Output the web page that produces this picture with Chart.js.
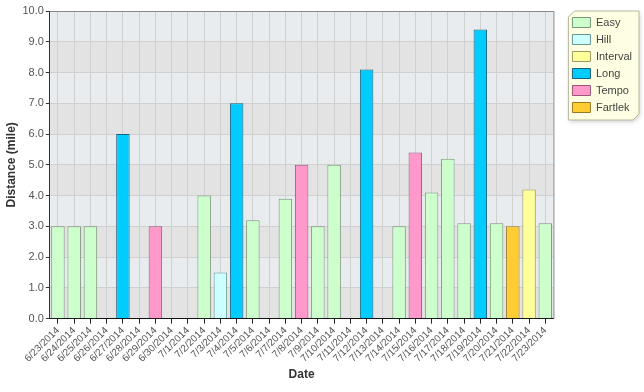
<!DOCTYPE html>
<html>
<head>
<meta charset="utf-8">
<script src="https://cdn.jsdelivr.net/npm/chart.js@4.4.1/dist/chart.umd.min.js"></script>
<style>
  html, body { margin: 0; padding: 0; background: #fff; }
  #wrap { width: 644px; height: 392px; }
</style>
</head>
<body>
<div id="wrap"><canvas id="runs"></canvas></div>
<script>
// Run log data
// -----------------------------------
var dates = ['6/23/2014', '6/24/2014', '6/25/2014', '6/26/2014', '6/27/2014', '6/28/2014', '6/29/2014',
    '6/30/2014', '7/1/2014', '7/2/2014', '7/3/2014', '7/4/2014', '7/5/2014', '7/6/2014', '7/7/2014',
    '7/8/2014', '7/9/2014', '7/10/2014', '7/11/2014', '7/12/2014', '7/13/2014', '7/14/2014', '7/15/2014',
    '7/16/2014', '7/17/2014', '7/18/2014', '7/19/2014', '7/20/2014', '7/21/2014', '7/22/2014', '7/23/2014'];

var easy     = [3.0, 3.0, 3.0, null, null, null, null, null, null, 4.0, null, null, 3.2, null, 3.9, null, 3.0, 5.0, null, null, null, 3.0, null, 4.1, 5.2, 3.1, null, 3.1, null, null, 3.1];
var hill     = [null, null, null, null, null, null, null, null, null, null, 1.5, null, null, null, null, null, null, null, null, null, null, null, null, null, null, null, null, null, null, null, null];
var interval = [null, null, null, null, null, null, null, null, null, null, null, null, null, null, null, null, null, null, null, null, null, null, null, null, null, null, null, null, null, 4.2, null];
var long     = [null, null, null, null, 6.0, null, null, null, null, null, null, 7.0, null, null, null, null, null, null, null, 8.1, null, null, null, null, null, null, 9.4, null, null, null, null];
var tempo    = [null, null, null, null, null, null, 3.0, null, null, null, null, null, null, null, null, 5.0, null, null, null, null, null, null, 5.4, null, null, null, null, null, null, null, null];
var fartlek  = [null, null, null, null, null, null, null, null, null, null, null, null, null, null, null, null, null, null, null, null, null, null, null, null, null, null, null, null, 3.0, null, null];

(function() {
    'use strict';

    Chart.defaults.font.family = '"Liberation Sans", Arial, sans-serif';
    Chart.defaults.font.size = 11;
    Chart.defaults.color = '#555';

    function set(label, data, fill, line) {
        return {
            label: label,
            data: data,
            backgroundColor: fill,
            borderColor: line,
            borderWidth: 1,
            categoryPercentage: 1,
            barPercentage: 0.83
        };
    }

    // striped plot background, legend box, frame
    var plotBack = {
        id: 'plotBack',
        beforeDraw: function(chart) {
            var ctx = chart.ctx, a = chart.chartArea, y = chart.scales.y;
            ctx.save();
            for (var v = 0; v < 10; v++) {
                var top = y.getPixelForValue(v + 1), bot = y.getPixelForValue(v);
                ctx.fillStyle = (v % 2) ? '#e8ecef' : '#e3e3e3';
                ctx.fillRect(a.left, top, a.right - a.left, bot - top);
            }
            ctx.restore();

            // legend box with clipped corners
            var lg = chart.legend;
            var l = lg.left + 2, t = a.top, r = lg.right - 3, b = t + 109, c = 6;
            ctx.save();
            ctx.shadowColor = 'rgba(0,0,0,0.18)';
            ctx.shadowBlur = 4;
            ctx.shadowOffsetX = 1;
            ctx.shadowOffsetY = 2;
            ctx.beginPath();
            ctx.moveTo(l + c, t);
            ctx.lineTo(r, t);
            ctx.lineTo(r, b - c);
            ctx.lineTo(r - c, b);
            ctx.lineTo(l, b);
            ctx.lineTo(l, t + c);
            ctx.closePath();
            ctx.fillStyle = '#fefee2';
            ctx.fill();
            ctx.shadowColor = 'transparent';
            ctx.strokeStyle = '#b8b8a0';
            ctx.lineWidth = 1;
            ctx.stroke();
            ctx.restore();
        },
        afterDatasetsDraw: function(chart) {
            var ctx = chart.ctx, a = chart.chartArea;
            ctx.save();
            ctx.strokeStyle = '#888';
            ctx.lineWidth = 1;
            ctx.beginPath();
            ctx.moveTo(a.left, a.top + 0.5);
            ctx.lineTo(a.right + 0.5, a.top + 0.5);
            ctx.lineTo(a.right + 0.5, a.bottom);
            ctx.stroke();
            ctx.restore();
        }
    };

    var ctx = document.getElementById('runs').getContext('2d');
    var runChart = new Chart(ctx, {
        type: 'bar',
        data: {
            labels: dates,
            datasets: [
                set('Easy', easy, '#ccffcc', '#7a977a'),
                set('Hill', hill, '#ccffff', '#6a9696'),
                set('Interval', interval, '#ffff99', '#9a9a62'),
                set('Long', long, '#00ccff', '#1b5f7c'),
                set('Tempo', tempo, '#ff99cc', '#9a5676'),
                set('Fartlek', fartlek, '#ffcc33', '#9a7a22')
            ]
        },
        options: {
            responsive: true,
            maintainAspectRatio: false,
            animation: false,
            layout: { padding: { top: 11, right: 2, bottom: 10, left: 4 } },
            plugins: {
                tooltip: { enabled: false },
                legend: {
                    position: 'right',
                    align: 'start',
                    labels: {
                        boxWidth: 18,
                        boxHeight: 10,
                        padding: 6,
                        color: '#444',
                        font: { size: 11 }
                    }
                }
            },
            scales: {
                x: {
                    stacked: true,
                    offset: true,
                    grid: {
                        offset: false,
                        color: '#d0d0d0',
                        tickColor: '#222',
                        tickLength: 5
                    },
                    border: { color: '#111', width: 1 },
                    ticks: { minRotation: 45, maxRotation: 45, autoSkip: false, padding: 1, color: '#555', font: { size: 10 } },
                    title: { display: true, text: 'Date', color: '#333', font: { size: 12, weight: 'bold' }, padding: { top: 2, bottom: 0 } }
                },
                y: {
                    stacked: true,
                    min: 0,
                    max: 10,
                    grid: { color: '#d0d0d0', drawTicks: true, tickLength: 4, tickColor: '#333' },
                    border: { color: '#333', width: 1 },
                    ticks: {
                        stepSize: 1,
                        padding: 2,
                        color: '#555',
                        callback: function(v) { return v.toFixed(1); }
                    },
                    title: { display: true, text: 'Distance (mile)', color: '#333', font: { size: 12, weight: 'bold' }, padding: { top: 0, bottom: 2 } }
                },
                // empty axis, only keeps a gap between plot and legend
                gap: {
                    axis: 'y',
                    position: 'right',
                    grid: { display: false },
                    border: { display: false },
                    ticks: { display: false },
                    afterFit: function(s) { s.width = 13; }
                }
            }
        },
        plugins: [plotBack]
    });
})();
</script>
</body>
</html>
